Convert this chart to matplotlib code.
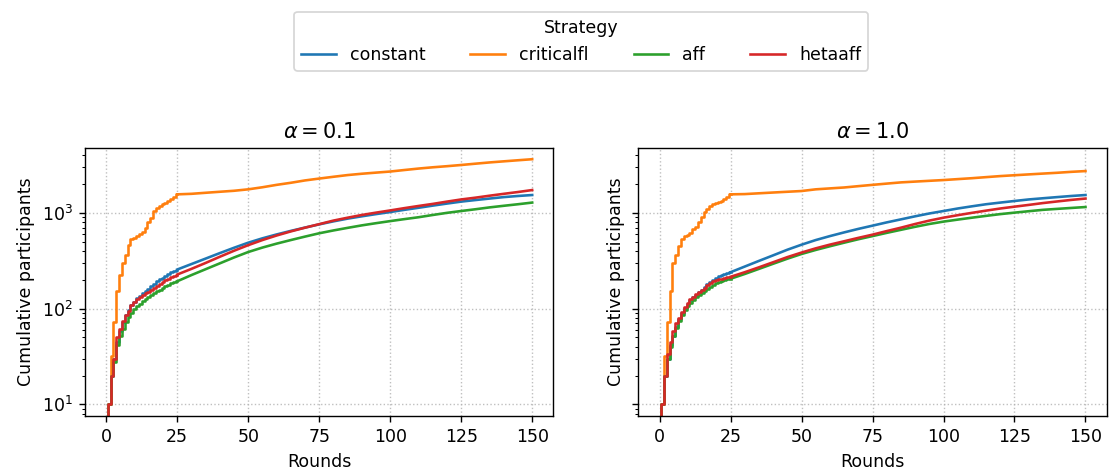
import matplotlib.pyplot as plt

rounds = list(range(0, 26)) + list(range(30, 151, 5))

strategies = ["constant", "criticalfl", "aff", "hetaaff"]
colors = ["#1f77b4", "#ff7f0e", "#2ca02c", "#d62728"]

# alpha = 0.1
a01_constant = [0, 10, 20, 30, 45, 58, 72, 85, 96, 108, 118, 128, 136, 145, 153, 162,
                172, 182, 192, 202, 211, 220, 230, 240, 248, 256,
                292, 333, 380, 432, 488, 542, 595, 648, 702, 758, 815, 870, 920, 970,
                1020, 1075, 1130, 1190, 1250, 1310, 1360, 1410, 1460, 1500, 1535]
a01_criticalfl = [0, 10, 32, 72, 151, 227, 301, 367, 457, 528, 550, 571, 605, 630, 700, 800,
                  890, 1045, 1113, 1175, 1227, 1280, 1330, 1410, 1480, 1560,
                  1580, 1620, 1660, 1700, 1760, 1850, 1960, 2060, 2180, 2280, 2380, 2480,
                  2560, 2630, 2700, 2800, 2900, 2990, 3070, 3160, 3260, 3360, 3450, 3540, 3630]
a01_aff = [0, 10, 20, 28, 42, 52, 62, 72, 82, 90, 98, 106, 113, 119, 125, 131,
           138, 145, 152, 158, 165, 171, 177, 183, 188, 193,
           224, 258, 297, 342, 390, 434, 477, 520, 565, 612, 655, 697, 740, 780,
           820, 860, 900, 950, 1000, 1045, 1090, 1140, 1185, 1230, 1280]
a01_hetaaff = [0, 10, 20, 30, 50, 62, 75, 85, 95, 108, 118, 126, 132, 138, 144, 150,
               157, 165, 173, 181, 189, 197, 205, 213, 220, 227,
               260, 300, 348, 402, 460, 520, 580, 640, 700, 762, 830, 890, 950, 1005,
               1060, 1120, 1180, 1240, 1310, 1380, 1440, 1510, 1580, 1650, 1730]

# alpha = 1.0
a10_constant = [0, 10, 20, 30, 42, 52, 65, 78, 90, 102, 113, 123, 132, 140, 148, 157,
                168, 180, 190, 200, 210, 218, 225, 230, 236, 240,
                275, 315, 360, 412, 465, 520, 572, 625, 680, 735, 795, 855, 920, 985,
                1045, 1110, 1170, 1230, 1280, 1330, 1380, 1420, 1460, 1500, 1535]
a10_criticalfl = [0, 10, 32, 72, 151, 301, 367, 449, 528, 571, 590, 612, 671, 717, 800, 912,
                  1020, 1100, 1175, 1227, 1280, 1300, 1330, 1390, 1450, 1560,
                  1570, 1600, 1630, 1660, 1690, 1760, 1800, 1840, 1900, 1960, 2020, 2080,
                  2120, 2160, 2200, 2250, 2300, 2360, 2420, 2470, 2520, 2570, 2620, 2680, 2730]
a10_aff = [0, 10, 20, 30, 40, 52, 63, 74, 86, 96, 106, 115, 123, 131, 138, 146,
           154, 162, 170, 177, 184, 189, 194, 198, 202, 205,
           230, 260, 294, 332, 372, 410, 448, 488, 530, 572, 618, 665, 715, 765,
           810, 850, 890, 930, 970, 1005, 1040, 1075, 1100, 1125, 1150]
a10_hetaaff = [0, 10, 20, 34, 45, 58, 71, 80, 93, 104, 115, 125, 133, 141, 148, 156,
               165, 175, 185, 193, 200, 203, 206, 209, 212, 215,
               240, 270, 305, 345, 385, 426, 466, 505, 548, 592, 645, 700, 765, 830,
               890, 945, 1000, 1055, 1110, 1160, 1210, 1265, 1315, 1365, 1410]

panels = [
    ("$\\alpha = 0.1$", [a01_constant, a01_criticalfl, a01_aff, a01_hetaaff]),
    ("$\\alpha = 1.0$", [a10_constant, a10_criticalfl, a10_aff, a10_hetaaff]),
]

n_early = 26  # per-round readings, drawn as steps

fig, axes = plt.subplots(1, 2, figsize=(1109 / 125, 472 / 125), dpi=125, sharey=True)
fig.subplots_adjust(left=0.0766, right=0.998, top=0.686, bottom=0.119, wspace=0.181)

for ax, (title, series) in zip(axes, panels):
    for name, vals, c in zip(strategies, series, colors):
        ax.step(rounds[:n_early], vals[:n_early], where="mid", color=c, label=name)
        ax.plot(rounds[n_early - 1:], vals[n_early - 1:], color=c)
    ax.set_yscale("log")
    ax.set_ylim(7.6, 4730)
    ax.set_xticks([0, 25, 50, 75, 100, 125, 150])
    ax.set_title(title)
    ax.set_xlabel("Rounds")
    ax.set_ylabel("Cumulative participants")
    ax.grid(True, linestyle=":", color="#b0b0b0", alpha=0.8)

handles, labels = axes[0].get_legend_handles_labels()
fig.legend(handles, labels, title="Strategy", loc="upper center", ncol=4,
           bbox_to_anchor=(0.524, 0.993), columnspacing=2.6)

plt.savefig("out.png")
